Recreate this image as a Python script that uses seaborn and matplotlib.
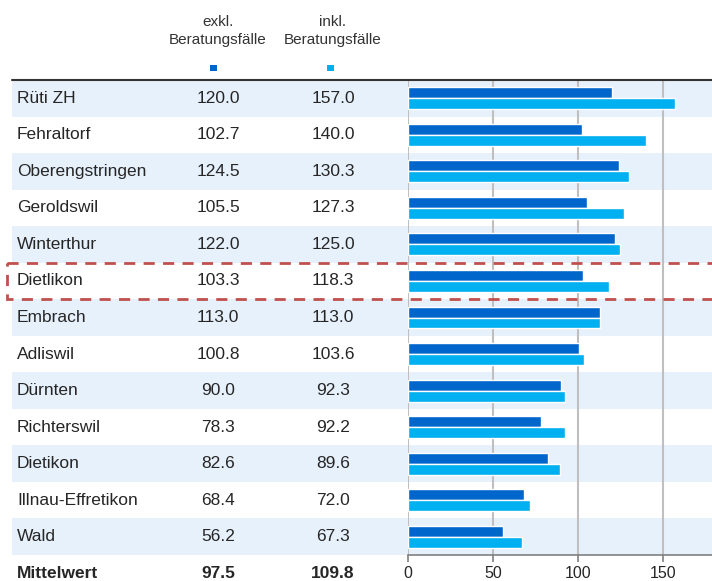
import numpy as np
import pandas as pd
import seaborn as sns
import matplotlib.pyplot as plt
from matplotlib.transforms import blended_transform_factory
from matplotlib.patches import Rectangle

gemeinden = ['Rüti ZH', 'Fehraltorf', 'Oberengstringen', 'Geroldswil', 'Winterthur',
             'Dietlikon', 'Embrach', 'Adliswil', 'Dürnten', 'Richterswil', 'Dietikon',
             'Illnau-Effretikon', 'Wald']
exkl = [120.0, 102.7, 124.5, 105.5, 122.0, 103.3, 113.0, 100.8, 90.0, 78.3, 82.6, 68.4, 56.2]
inkl = [157.0, 140.0, 130.3, 127.3, 125.0, 118.3, 113.0, 103.6, 92.3, 92.2, 89.6, 72.0, 67.3]
mittel_exkl = 97.5
mittel_inkl = 109.8
ticks = [0, 50, 100, 150]
highlight = 'Dietlikon'

dunkel = '#0066CC'
hell = '#00B0F0'
W, H = 712, 581
fs = 12.5

df = pd.DataFrame({'Gemeinde': gemeinden * 2,
                   'Wert': exkl + inkl,
                   'Typ': ['exkl'] * len(gemeinden) + ['inkl'] * len(gemeinden)})

sns.set_style('white')
plt.rcParams['font.family'] = ['Liberation Sans', 'DejaVu Sans']

fig = plt.figure(figsize=(W / 100, H / 100), dpi=100)
ax = fig.add_axes([408 / W, (H - 555) / H, (W - 408) / W, (555 - 80) / H])

sns.barplot(data=df, y='Gemeinde', x='Wert', hue='Typ', orient='h', saturation=1,
            palette=[dunkel, hell], width=0.6, ax=ax, legend=False, zorder=2)

ax.set_xlim(0, 179)
ax.set_ylim(len(gemeinden) - 0.5, -0.5)
ax.set_xticks(ticks)
ax.set_xticklabels([str(t) for t in ticks], fontsize=11.5)
ax.set_yticks([])
ax.set_xlabel('')
ax.set_ylabel('')
ax.set_axisbelow(True)
ax.grid(axis='x', color='#BFBFBF', linewidth=1.5, zorder=0.5)
ax.grid(axis='y', visible=False)
for s in ['top', 'right', 'left']:
    ax.spines[s].set_visible(False)
ax.spines['bottom'].set_color('#808080')
ax.spines['bottom'].set_linewidth(1.2)
ax.tick_params(axis='x', bottom=True, length=5, width=1.2, color='#808080', pad=3)

tr = blended_transform_factory(fig.transFigure, ax.transData)

# Zeilen-Hintergrund
for i in range(len(gemeinden)):
    if i % 2 == 0:
        ax.add_patch(Rectangle((12 / W, i - 0.5), (W - 12) / W, 1, transform=tr,
                               facecolor='#E7F1FC', edgecolor='none', zorder=0.2, clip_on=False))

# Tabelle
x_name, x_ex, x_in = 17 / W, 218 / W, 333 / W
for i, g in enumerate(gemeinden):
    ax.text(x_name, i, g, transform=tr, ha='left', va='center', fontsize=fs)
    ax.text(x_ex, i, f'{exkl[i]:.1f}', transform=tr, ha='center', va='center', fontsize=fs)
    ax.text(x_in, i, f'{inkl[i]:.1f}', transform=tr, ha='center', va='center', fontsize=fs)
n = len(gemeinden)
ax.text(x_name, n, 'Mittelwert', transform=tr, ha='left', va='center', fontsize=fs, fontweight='bold')
ax.text(x_ex, n, f'{mittel_exkl:.1f}', transform=tr, ha='center', va='center', fontsize=fs, fontweight='bold')
ax.text(x_in, n, f'{mittel_inkl:.1f}', transform=tr, ha='center', va='center', fontsize=fs, fontweight='bold')

# obere Linie
ax.plot([12 / W, 1], [-0.5, -0.5], transform=tr, color='#333333', linewidth=1.5, clip_on=False, zorder=3)

# Markierung Dietlikon
k = gemeinden.index(highlight)
ax.add_patch(Rectangle((7 / W, k - 0.5), (W - 7) / W + 0.01, 1, transform=tr, facecolor='none',
                       edgecolor='#C0504D', linewidth=2, linestyle=(0, (4, 3)), zorder=4, clip_on=False))

# Kopfzeile
fig.text(218 / W, 1 - 31 / H, 'exkl.\nBeratungsfälle', ha='center', va='center',
         fontsize=11, color='#333333', linespacing=1.4)
fig.text(333 / W, 1 - 31 / H, 'inkl.\nBeratungsfälle', ha='center', va='center',
         fontsize=11, color='#333333', linespacing=1.4)
fig.add_artist(Rectangle((210 / W, 1 - 71 / H), 7 / W, 6 / H, transform=fig.transFigure,
                         facecolor=dunkel, edgecolor='none'))
fig.add_artist(Rectangle((327 / W, 1 - 71 / H), 7 / W, 6 / H, transform=fig.transFigure,
                         facecolor=hell, edgecolor='none'))

fig.savefig('out.png', dpi=100)
